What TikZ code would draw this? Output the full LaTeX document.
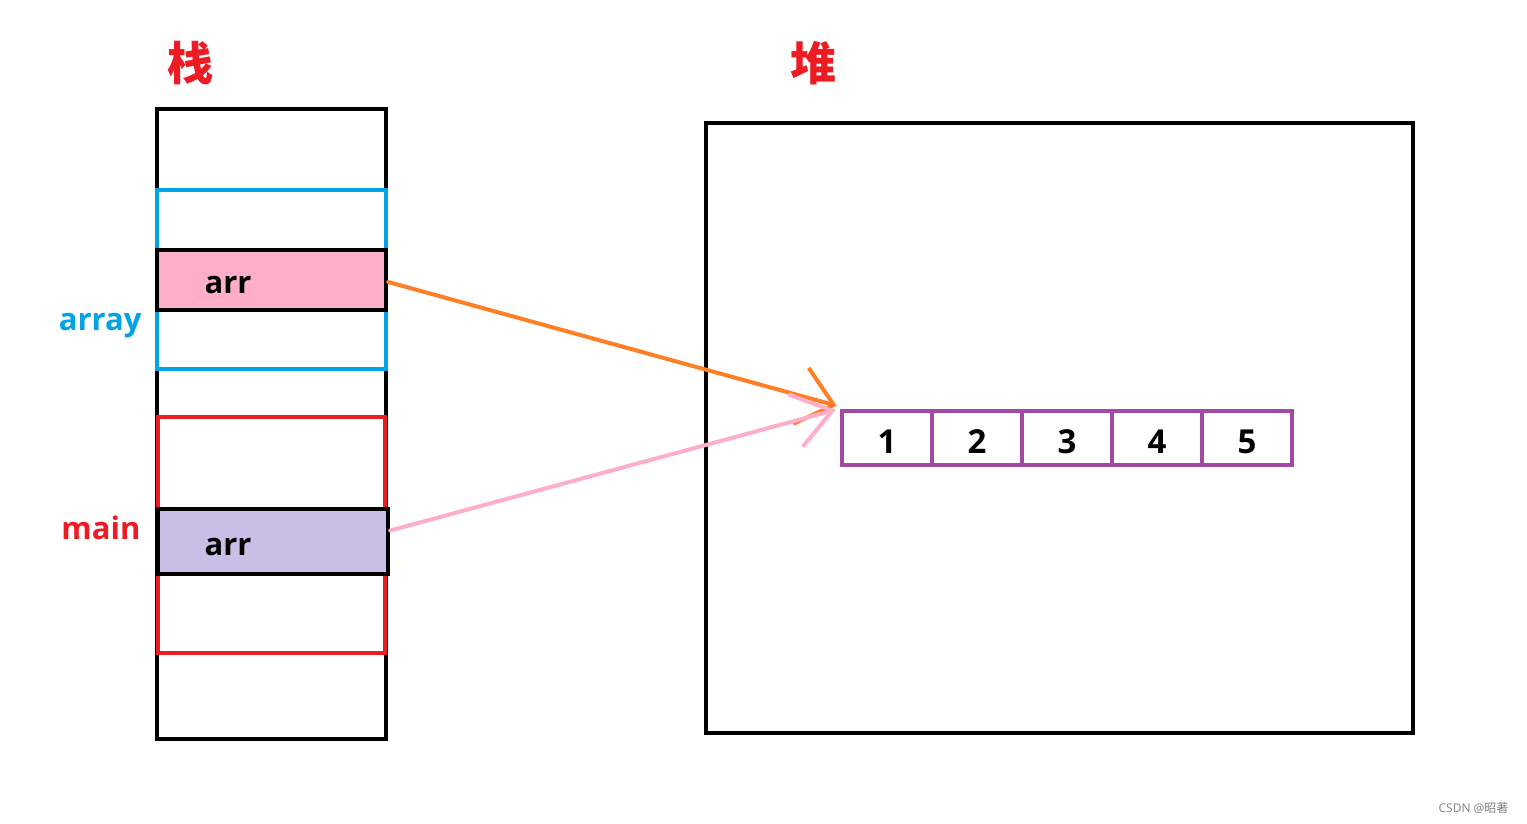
\documentclass[tikz,border=0pt]{standalone}
\usepackage{fontspec}
\setmainfont{Open Sans}
\newfontfamily\cjk{Noto Sans CJK SC}
\usetikzlibrary{arrows.meta}
\definecolor{stkred}{HTML}{ED1C24}
\definecolor{stkblue}{HTML}{00A2E8}
\definecolor{cellpurple}{HTML}{A349A4}
\definecolor{ptrpink}{HTML}{FFAEC9}
\definecolor{ptrlilac}{HTML}{C8BFE7}
\definecolor{refarrow}{HTML}{FF7F27}
\begin{document}
\begin{tikzpicture}[x=1pt,y=-1pt,
  frame/.style={draw, line width=4.5pt, inner sep=0pt},
  cell/.style={draw=cellpurple, line width=4.5pt, minimum width=90pt, minimum height=54pt, inner sep=0pt, text height=30pt, text depth=0pt, font=\fontsize{33}{33}\selectfont\bfseries},
  lbl/.style={font=\fontsize{31}{31}\selectfont\bfseries},
  title/.style={font=\fontsize{46}{46}\selectfont\cjk\bfseries, text=stkred}]
\useasboundingbox (0,0) rectangle (1527,824);
% stack
\node[frame, minimum width=229pt, minimum height=630pt] (stack) at (271.5,424){};
\node[frame, draw=stkblue, minimum width=229pt, minimum height=179pt] (fa) at (271.5,279.5){};
\node[frame, draw=stkred, minimum width=227pt, minimum height=236pt] (fm) at (271.5,535){};
\node[frame, fill=ptrpink, minimum width=229pt, minimum height=60pt] (ptr1) at (271.5,280){};
\node[frame, fill=ptrlilac, minimum width=230pt, minimum height=65pt] (ptr2) at (273,541.5){};
\node[lbl] (t1) at (228,285){arr};
\node[lbl] (t2) at (228,547){arr};
\node[lbl, text=stkblue, anchor=east] (la) at (145,326){array};
\node[lbl, text=stkred, anchor=east] (lm) at (144,528){main};
\node[title] (tstack) at (190,63){栈};
% heap
\node[frame, minimum width=707pt, minimum height=610pt] (heap) at (1059.5,428){};
\node[title] (theap) at (813,63){堆};
\node[cell] (c1) at (887,438){1};
\node[cell] (c2) at (977,438){2};
\node[cell] (c3) at (1067,438){3};
\node[cell] (c4) at (1157,438){4};
\node[cell] (c5) at (1247,438){5};
% references
\draw[refarrow, line width=4pt, line cap=round, -{Straight Barb[length=34pt,width=58pt,line width=4pt]}] ([yshift=-2pt]ptr1.east) -- ([xshift=-3pt,yshift=3pt]c1.north west);
\draw[ptrpink, line width=4pt, line cap=round, -{Straight Barb[length=38pt,width=54pt,line width=4pt]}] ([yshift=11pt]ptr2.east) -- ([xshift=-4pt,yshift=-1pt]c1.north west);
\node[font=\fontsize{12}{12}\selectfont, text=gray, anchor=east] (wm) at (1512,808){CSDN @{\cjk 昭著}};
\end{tikzpicture}
\end{document}
